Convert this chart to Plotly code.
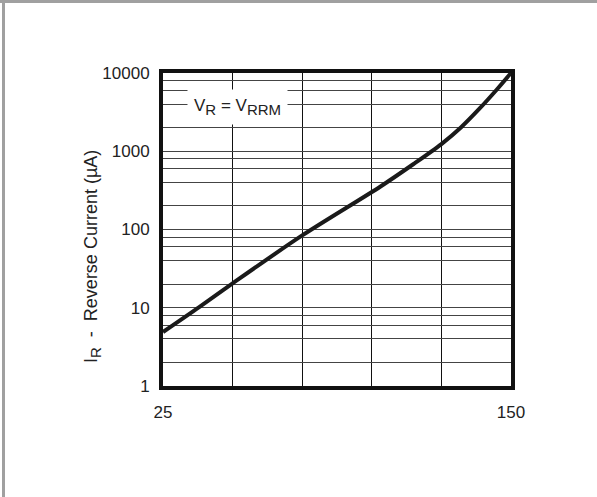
import plotly.graph_objects as go

# Data
temps = [25, 38, 50, 75, 103, 115, 125, 132, 139, 145, 150]
current = [4.9, 10.2, 20.5, 84, 352, 687, 1236, 2013, 3600, 6200, 10000]

x_tickvals = [25, 50, 75, 100, 125, 150]
x_ticktext = ["25", "", "", "", "", "150"]

y_tickvals = [1, 2, 4, 6, 8, 10, 20, 40, 60, 80, 100, 200, 400, 600, 800,
              1000, 2000, 4000, 6000, 8000, 10000]
y_ticktext = ["1", "", "", "", "", "10", "", "", "", "", "100", "", "", "", "",
              "1000", "", "", "", "", "10000"]

W, H = 597, 497
L, R, T, B = 163, 86, 73, 111
pw, ph = W - L - R, H - T - B


def px(x):
    return (x - L) / pw


def py(y):
    return (H - B - y) / ph


fig = go.Figure()
fig.add_trace(go.Scatter(
    x=temps, y=current, mode="lines",
    line=dict(color="#1a1a1a", width=4, shape="spline", smoothing=0.8),
    showlegend=False, hoverinfo="skip",
))

font = dict(family="Liberation Sans, Arial, sans-serif", size=17, color="#222")
tfont = dict(family="Liberation Sans, Arial, sans-serif", size=18, color="#222")

fig.update_layout(
    width=W, height=H,
    margin=dict(l=L, r=R, t=T, b=B),
    paper_bgcolor="white", plot_bgcolor="white",
    font=font,
    xaxis=dict(
        range=[25, 150], tickvals=x_tickvals, ticktext=x_ticktext,
        showgrid=True, gridcolor="#111", gridwidth=1,
        showline=True, linecolor="#111", linewidth=4, mirror=True,
        ticks="", ticklabelstandoff=8, zeroline=False,
        tickfont=font,
    ),
    yaxis=dict(
        type="log", range=[0, 4], tickvals=y_tickvals, ticktext=y_ticktext,
        showgrid=True, gridcolor="#444", gridwidth=1,
        showline=True, linecolor="#111", linewidth=4, mirror=True,
        ticks="", ticklabelstandoff=6, zeroline=False,
        tickfont=font,
    ),
    annotations=[
        dict(text="V<sub><span style='font-size:15px'>R</span></sub> = "
                  "V<sub><span style='font-size:15px'>RRM</span></sub>",
             xref="paper", yref="paper", xanchor="center", yanchor="middle",
             x=px(237), y=py(107), showarrow=False, bgcolor="white",
             borderpad=6, font=font),
        dict(text="I<sub><span style='font-size:15px'>R</span></sub>  -  Reverse Current (µA)",
             xref="paper", yref="paper", xanchor="center", yanchor="middle",
             x=px(92), y=py(257), showarrow=False, textangle=-90, font=tfont),
    ],
    shapes=[
        dict(type="rect", xref="paper", yref="paper",
             x0=px(0), x1=px(W), y0=py(0), y1=py(3),
             fillcolor="#a0a0a0", line=dict(width=0), layer="below"),
        dict(type="rect", xref="paper", yref="paper",
             x0=px(2), x1=px(5), y0=py(0), y1=py(H),
             fillcolor="#a0a0a0", line=dict(width=0), layer="below"),
    ],
)

fig.write_html("out.html", config={"displayModeBar": False},
               post_script="document.body.style.margin='0';")
